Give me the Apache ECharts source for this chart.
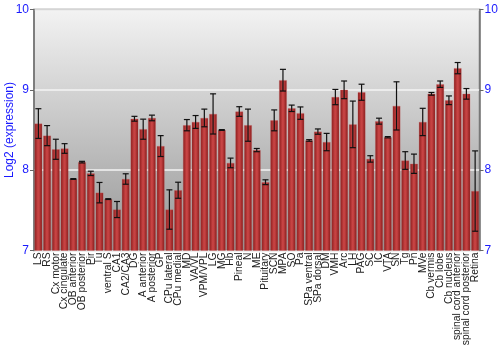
<!DOCTYPE html>
<html><head><meta charset="utf-8">
<script src="https://cdn.jsdelivr.net/npm/echarts@6/dist/echarts.min.js"></script>
<style>html,body{margin:0;padding:0;background:#fff}#c{width:500px;height:350px}</style>
</head><body><div id="c"></div>
<script>
const categories = ["LS","RS","Cx motor","Cx cingulate","OB anterior","OB posterior","Pir","Tu","ventral S","CA1","CA2/CA3","DG","A anterior","A posterior","GP","CPu lateral","CPu medial","MD","VA/VL","VPM/VPL","LG","MG","Hb","Pineal","N","ME","Pituitary","SCN","MPA","SO","Pa","SPa ventral","SPa dorsal","DM","VMH","Arc","LH","PAG","SC","IC","VTA","SN","Tg","Pn","MVe","Cb vermis","Cb lobe","Cb nucleus","spinal cord anterior","spinal cord posterior","Retina"];
const values = [8.58,8.43,8.26,8.27,7.89,8.10,7.96,7.72,7.64,7.51,7.89,8.64,8.51,8.65,8.30,7.51,7.75,8.56,8.60,8.65,8.70,8.50,8.09,8.73,8.56,8.25,7.85,8.62,9.12,8.77,8.71,8.37,8.48,8.35,8.91,9.00,8.57,8.97,8.14,8.61,8.41,8.80,8.12,8.08,8.60,8.95,9.07,8.87,9.27,8.95,7.74];
const errors = [0.185,0.125,0.125,0.06,0.005,0.01,0.027,0.127,0.005,0.1,0.065,0.03,0.125,0.035,0.13,0.245,0.1,0.07,0.08,0.11,0.25,0.005,0.06,0.06,0.2,0.02,0.03,0.13,0.135,0.04,0.077,0.01,0.033,0.108,0.095,0.11,0.29,0.1,0.04,0.037,0.008,0.3,0.11,0.12,0.17,0.017,0.04,0.054,0.07,0.066,0.5];
const yTicks = [7,8,9,10];

const errData = values.map((v,i)=>[i, v-errors[i], v+errors[i]]);
const chart = echarts.init(document.getElementById('c'));
const blue = '#1a1aff';
const yAxisCommon = {
  type:'value', min:yTicks[0], max:yTicks[yTicks.length-1], interval:1,
  axisLine:{show:true, lineStyle:{color:'#777', width:1.5}},
  axisTick:{show:true, length:4, lineStyle:{color:'#666'}},
  axisLabel:{color:blue, fontSize:12, fontFamily:'Liberation Sans', margin:5, hideOverlap:false},
};
chart.setOption({
  animation:false,
  grid:{left:34, right:20.5, top:9.5, bottom:99.5, containLabel:false, outerBoundsMode:'none',
    show:true, borderColor:'#777', borderWidth:1.5,
    backgroundColor:{type:'linear', x:0, y:0, x2:0, y2:1, colorStops:[{offset:0,color:'#f3f3f3'},{offset:1,color:'#959595'}]}},
  xAxis:{type:'category', data:categories,
    axisLine:{show:false}, axisTick:{show:false},
    axisLabel:{rotate:90, interval:0, fontSize:10.3, color:'#222', fontFamily:'Liberation Sans', margin:2}},
  yAxis:[
    Object.assign({}, yAxisCommon, {position:'left', name:'Log2 (expression)', nameLocation:'middle', nameGap:18,
      nameMoveOverlap:false,
      nameTextStyle:{color:blue, fontSize:12, fontFamily:'Liberation Sans'},
      splitLine:{show:true, lineStyle:{color:'#f4f4f4', width:1.5}}}),
    Object.assign({}, yAxisCommon, {position:'right', splitLine:{show:false}})
  ],
  series:[
    {type:'bar', data:values, barCategoryGap:'12%',
      itemStyle:{color:{type:'linear', x:0, y:0, x2:1, y2:0, colorStops:[
        {offset:0,color:'#6e1414'},{offset:0.12,color:'#9a2626'},{offset:0.45,color:'#c84444'},{offset:0.6,color:'#c24040'},{offset:0.88,color:'#962424'},{offset:1,color:'#6e1414'}]},
        borderColor:'rgba(210,90,90,0.6)', borderWidth:0.5}},
    {type:'custom', data:errData, z:5,
      renderItem:function(params, api){
        const x = api.value(0);
        const lo = api.coord([x, api.value(1)]);
        const hi = api.coord([x, api.value(2)]);
        const cx = lo[0], w = 3;
        const st = {stroke:'#111', lineWidth:1.2};
        return {type:'group', children:[
          {type:'line', shape:{x1:cx,y1:lo[1],x2:cx,y2:hi[1]}, style:st},
          {type:'line', shape:{x1:cx-w,y1:lo[1],x2:cx+w,y2:lo[1]}, style:st},
          {type:'line', shape:{x1:cx-w,y1:hi[1],x2:cx+w,y2:hi[1]}, style:st}
        ]};
      }}
  ]
});
</script></body></html>
